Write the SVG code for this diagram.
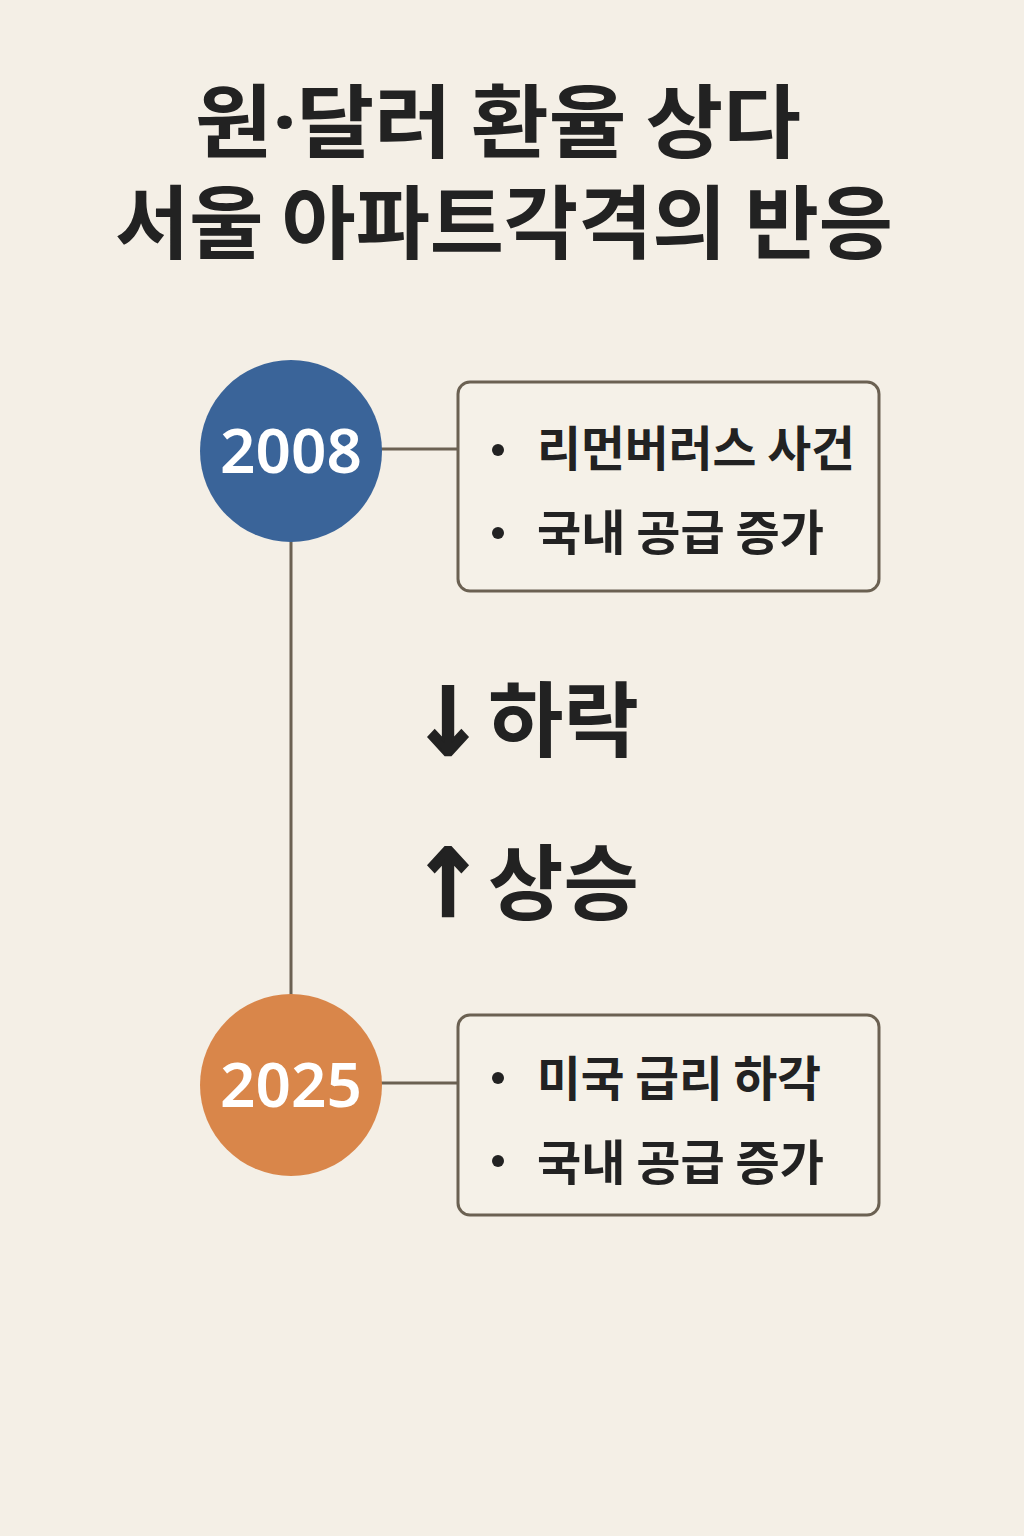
<svg xmlns="http://www.w3.org/2000/svg" width="1024" height="1536" viewBox="0 0 1024 1536">
<defs>
<style>
.t{font-family:"Noto Sans CJK KR","Noto Sans",sans-serif;fill:#222222;font-weight:700}
.ar{font-family:"DejaVu Sans","Noto Sans CJK KR",sans-serif;fill:#222222;font-weight:700;font-size:94px;stroke:#222222;stroke-width:2.5}
.yr{font-family:"Noto Sans","Noto Sans CJK KR",sans-serif;fill:#ffffff;font-weight:600;font-size:62px}
.item{font-family:"Noto Sans CJK KR","Noto Sans",sans-serif;fill:#222222;font-weight:600;font-size:48px}
.box{fill:#f5f1e8;stroke:#6b6152;stroke-width:3}
.ln{stroke:#6b6152;stroke-width:3;fill:none}
</style>
</defs>
<rect width="1024" height="1536" fill="#f4efe6"/>
<g id="title">
<text class="t" x="498" y="151" font-size="80" text-anchor="middle" textLength="606" lengthAdjust="spacingAndGlyphs">원<tspan font-family="Noto Sans, sans-serif">·</tspan>달러 환율 상다</text>
<text class="t" x="504" y="252" font-size="80" text-anchor="middle" textLength="778" lengthAdjust="spacingAndGlyphs">서울 아파트각격의 반응</text>
</g>
<g id="connectors">
<line class="ln" x1="291" y1="540" x2="291" y2="996"/>
<line class="ln" x1="381" y1="449" x2="459" y2="449"/>
<line class="ln" x1="381" y1="1083" x2="459" y2="1083"/>
</g>
<g id="node-2008">
<circle cx="291" cy="451" r="91" fill="#3a6499"/>
<text class="yr" x="291" y="473" text-anchor="middle">2008</text>
</g>
<g id="box-2008">
<rect class="box" x="458" y="382" width="421" height="209" rx="12"/>
<circle cx="498" cy="450" r="6" fill="#222"/>
<circle cx="498" cy="533" r="6" fill="#222"/>
<text class="item" x="537" y="466" textLength="318" lengthAdjust="spacingAndGlyphs">리먼버러스 사건</text>
<text class="item" x="537" y="550" textLength="287" lengthAdjust="spacingAndGlyphs">국내 공급 증가</text>
</g>
<g id="trend">
<text class="ar" x="412" y="755" textLength="72" lengthAdjust="spacingAndGlyphs">↓</text>
<text class="t" x="488" y="750" font-size="82">하락</text>
<text class="ar" x="412" y="916" textLength="72" lengthAdjust="spacingAndGlyphs">↑</text>
<text class="t" x="488" y="913" font-size="82">상승</text>
</g>
<g id="node-2025">
<circle cx="291" cy="1085" r="91" fill="#d9864a"/>
<text class="yr" x="291" y="1107" text-anchor="middle">2025</text>
</g>
<g id="box-2025">
<rect class="box" x="458" y="1015" width="421" height="200" rx="12"/>
<circle cx="498" cy="1078" r="6" fill="#222"/>
<circle cx="498" cy="1161" r="6" fill="#222"/>
<text class="item" x="537" y="1096" textLength="284" lengthAdjust="spacingAndGlyphs">미국 급리 하각</text>
<text class="item" x="537" y="1180" textLength="287" lengthAdjust="spacingAndGlyphs">국내 공급 증가</text>
</g>
</svg>
